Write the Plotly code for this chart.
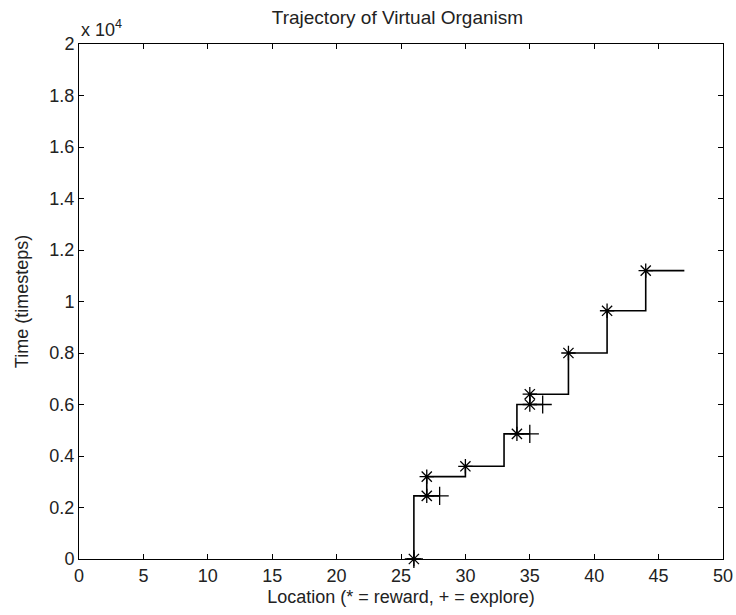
import plotly.graph_objects as go

# Trajectory path (location, time in timesteps)
path_x = [26, 26, 28, 27, 27, 30, 30, 33, 33, 35, 34, 34, 36, 35, 35, 38, 38, 41, 41, 44, 44, 47]
path_t = [0, 2450, 2450, 2450, 3200, 3200, 3600, 3600, 4860, 4860, 4860, 6000, 6000, 6000,
          6400, 6400, 8000, 8000, 9640, 9640, 11200, 11200]

# Reward events (*)
reward_x = [26, 27, 27, 30, 34, 35, 35, 38, 41, 44]
reward_t = [0, 2450, 3200, 3600, 4860, 6000, 6400, 8000, 9640, 11200]

# Explore events (+)
explore_x = [26, 28, 35, 36]
explore_t = [0, 2450, 4860, 6000]

y_tickvals = [0, 2000, 4000, 6000, 8000, 10000, 12000, 14000, 16000, 18000, 20000]
y_ticktext = ["0", "0.2", "0.4", "0.6", "0.8", "1", "1.2", "1.4", "1.6", "1.8", "2"]
x_tickvals = [0, 5, 10, 15, 20, 25, 30, 35, 40, 45, 50]

FONT = "Liberation Sans, Arial, sans-serif"
FS = 18
TXT = "#222"

fig = go.Figure()
fig.add_trace(go.Scatter(x=path_x, y=path_t, mode="lines",
                         line=dict(color="black", width=1.6),
                         cliponaxis=False, showlegend=False))
fig.add_trace(go.Scatter(x=reward_x, y=reward_t, mode="markers",
                         marker=dict(symbol="asterisk-open", size=12, color="black",
                                     line=dict(color="black", width=1.3)),
                         cliponaxis=False, showlegend=False))
fig.add_trace(go.Scatter(x=explore_x, y=explore_t, mode="markers",
                         marker=dict(symbol="cross-thin-open", size=13, color="black",
                                     line=dict(color="black", width=1.3)),
                         cliponaxis=False, showlegend=False))

axis_common = dict(showline=True, linecolor="black", linewidth=1, mirror="ticks",
                   ticks="inside", ticklen=5, tickcolor="black", tickwidth=1,
                   showgrid=False, zeroline=False, automargin=False,
                   tickfont=dict(family=FONT, size=FS, color=TXT))

fig.update_xaxes(range=[0, 50], tickvals=x_tickvals,
                 title=dict(text="Location (* = reward, + = explore)",
                            font=dict(family=FONT, size=FS, color=TXT), standoff=5),
                 **axis_common)
fig.update_yaxes(range=[0, 20000], tickvals=y_tickvals, ticktext=y_ticktext,
                 title=dict(text="Time (timesteps)",
                            font=dict(family=FONT, size=FS, color=TXT), standoff=16),
                 **axis_common)

fig.update_layout(
    width=736, height=615,
    margin=dict(l=79, r=13, t=44, b=56),
    paper_bgcolor="white", plot_bgcolor="white",
    title=dict(text="Trajectory of Virtual Organism", x=0.54, xanchor="center",
               y=0.971, yanchor="middle",
               font=dict(family=FONT, size=19, color=TXT)),
    annotations=[dict(text="x 10<sup>4</sup>", xref="paper", yref="paper",
                      x=0, y=1, xanchor="left", yanchor="bottom", xshift=0, yshift=2,
                      showarrow=False, font=dict(family=FONT, size=FS, color=TXT))],
)

fig.write_html("out.html")
